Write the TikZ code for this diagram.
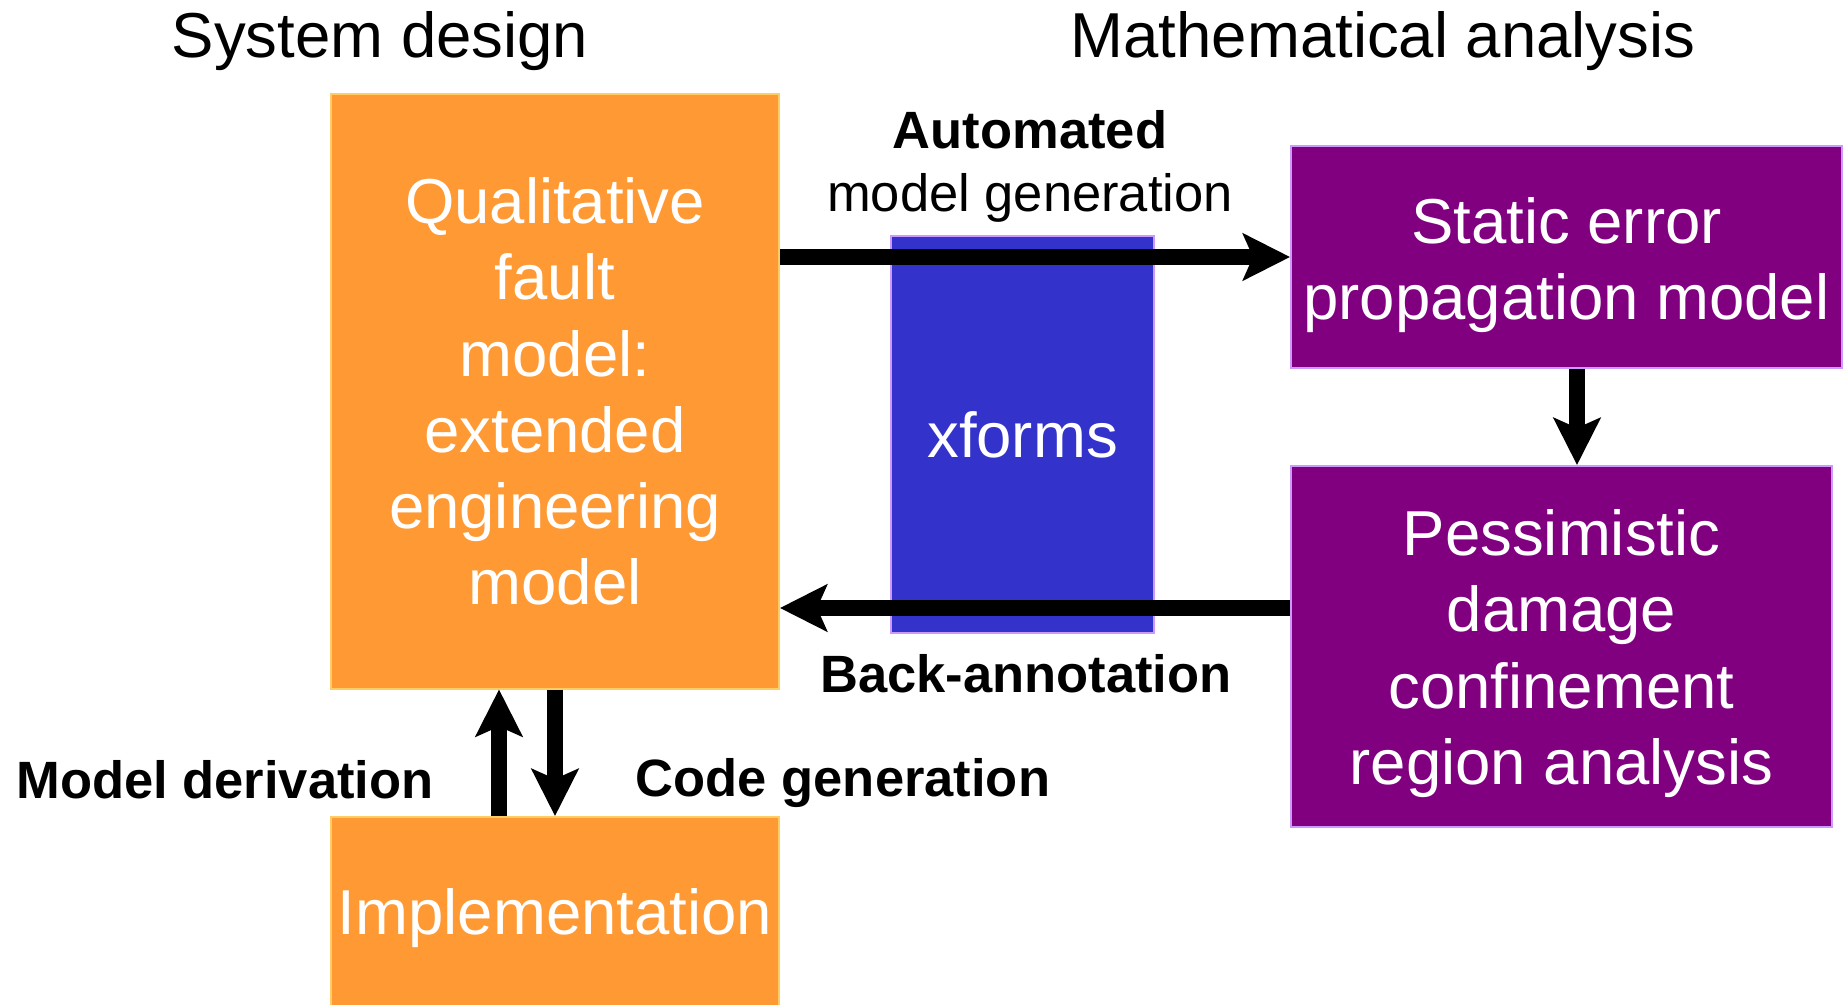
\documentclass[tikz,border=0pt]{standalone}
\usepackage{fontspec}
\setmainfont{Liberation Sans}
\usetikzlibrary{arrows.meta,calc}

\definecolor{boxorange}{HTML}{FF9933}
\definecolor{edgeorange}{HTML}{FFCC66}
\definecolor{boxblue}{HTML}{3333CC}
\definecolor{boxpurple}{HTML}{800080}
\definecolor{edgelilac}{HTML}{CC99FF}

\tikzset{
  bigfont/.style={font=\fontsize{31.75}{38.1}\selectfont},
  lblfont/.style={font=\fontsize{26.25}{31.5}\selectfont},
  blockbase/.style={rectangle, inner sep=0pt, line width=1pt, text=white,
    align=center, bigfont},
  designbox/.style={blockbase, fill=boxorange, draw=edgeorange},
  xformbox/.style={blockbase, fill=boxblue, draw=edgelilac},
  analysisbox/.style={blockbase, fill=boxpurple, draw=edgelilac},
  boxtext/.style={inner sep=0pt, text=white, align=center, bigfont},
  heading/.style={anchor=base, inner sep=0pt, bigfont},
  plainlbl/.style={anchor=base, inner sep=0pt, lblfont},
  boldlbl/.style={anchor=base, inner sep=0pt, font=\fontsize{26.25}{31.5}\selectfont\bfseries},
  bigarrow/.style={line width=8pt, -{Stealth[length=23.5pt, width=23.5pt, inset=5pt]}},
}

\begin{document}
\begin{tikzpicture}[x=0.5pt, y=-0.5pt]
  \useasboundingbox (0,0) rectangle (1845,1005);

  % column headings
  \node[heading] (hdesign) at (380,58) {System design};
  \node[heading] (hmath) at (1383,58) {Mathematical analysis};

  % transformation block in the middle
  \node[xformbox, minimum width=131.5pt, minimum height=198.5pt] (X) at (1022.5,434.5) {xforms};

  % design side
  \node[designbox, minimum width=224pt, minimum height=297pt] (Q) at (555,391.5)
    {Qualitative\\fault\\model:\\extended\\engineering\\model};
  \node[designbox, minimum width=224pt, minimum height=97pt,
    label={[boxtext, yshift=-2pt]center:Implementation}] (I) at (555,914) {};

  % analysis side
  \node[analysisbox, minimum width=275.5pt, minimum height=111pt,
    label={[boxtext, yshift=-4pt]center:{Static error\\propagation model}}] (S) at (1566.5,257) {};
  \node[analysisbox, minimum width=270.5pt, minimum height=180.5pt,
    label={[boxtext, yshift=-3.5pt]center:{Pessimistic\\damage\\confinement\\region analysis}}] (P) at (1561.5,646.5) {};

  % connectors
  \draw[bigarrow] (Q.east |- S.west) -- (S.west);
  \coordinate (ba) at ([yshift=19.25pt]P.west);
  \draw[bigarrow] (ba) -- (ba -| Q.east);
  \draw[bigarrow] ([xshift=5.25pt]S.south) -- ([xshift=5.25pt]S.south |- P.north);
  \draw[bigarrow] ([xshift=-28pt]I.north) -- ([xshift=-28pt]Q.south);
  \draw[bigarrow] (Q.south) -- (I.north);

  % connector labels
  \node[boldlbl] (lauto) at (1030,149) {Automated};
  \node[plainlbl] (lgen) at (1030,212) {model generation};
  \node[boldlbl] (lback) at (1026,692) {Back-annotation};
  \node[boldlbl] (lderiv) at (225,798) {Model derivation};
  \node[boldlbl] (lcode) at (843,796) {Code generation};
\end{tikzpicture}
\end{document}
